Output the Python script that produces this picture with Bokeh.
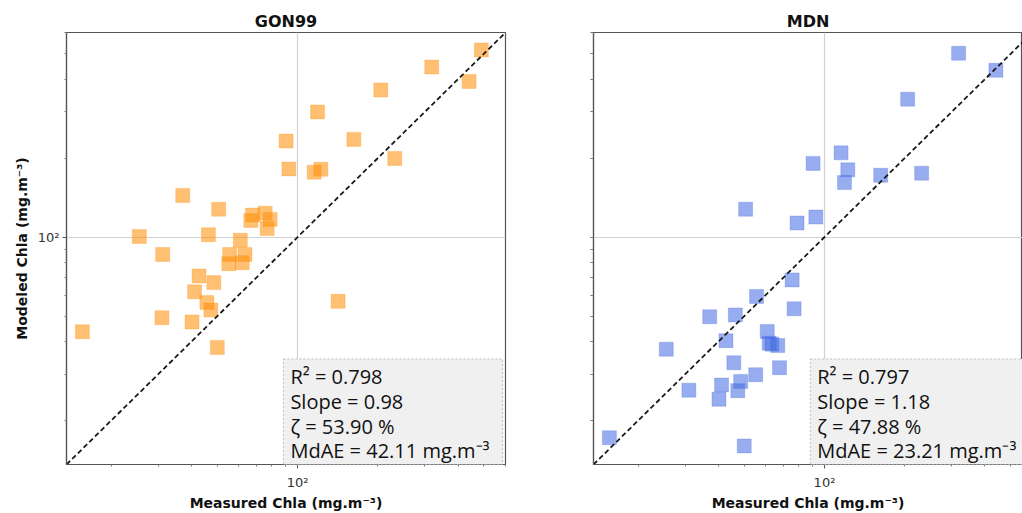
from bokeh.plotting import figure
from bokeh.models import FixedTicker, Label, Range1d
from bokeh.layouts import row
from bokeh.embed import file_html
from bokeh.resources import INLINE

# ---------------- data ----------------
titles = ["GON99", "MDN"]

gon_measured = [488.7, 318.4, 439.5, 205.1, 118.8, 162.5, 90.6, 231.4, 92.8, 115.4,
                122.3, 37.1, 50.6, 67.8, 66.8, 75.6, 78.9, 76.9, 25.5, 46.3,
                61.0, 31.2, 55.6, 63.5, 55.2, 62.0, 42.7, 48.5, 41.1, 45.7,
                47.3, 141.9, 31.0, 40.2, 15.6, 50.0]
gon_modeled = [516.0, 444.6, 391.9, 363.6, 300.0, 235.7, 232.2, 199.4, 181.9, 176.7,
               181.3, 144.2, 127.7, 121.3, 115.8, 123.4, 116.8, 107.8, 100.6, 102.1,
               97.2, 85.9, 85.9, 85.9, 79.2, 79.9, 71.1, 67.1, 61.9, 56.4,
               52.7, 56.9, 49.3, 47.5, 43.6, 38.0]

mdn_measured = [318.4, 439.5, 205.1, 115.4, 90.6, 122.3, 162.5, 231.4, 118.8, 50.6,
                92.8, 78.9, 75.6, 55.6, 76.9, 37.1, 46.3, 61.0, 42.7, 62.0,
                63.5, 66.8, 25.5, 45.7, 67.8, 55.2, 48.5, 41.1, 31.0, 47.3,
                40.2, 15.6, 50.0]
mdn_modeled = [501.6, 432.1, 335.5, 209.4, 190.9, 180.4, 172.1, 175.2, 161.3, 127.7,
               119.2, 113.2, 68.7, 59.4, 53.3, 49.7, 50.5, 43.7, 40.3, 39.4,
               39.1, 38.6, 37.4, 33.2, 31.8, 29.9, 28.2, 27.3, 26.1, 26.0,
               24.1, 17.2, 16.0]

stats_gon = ["R\u00b2 = 0.798", "Slope = 0.98", "\u03b6 = 53.90 %", "MdAE = 42.11 mg.m\u207b\u00b3"]
stats_mdn = ["R\u00b2 = 0.797", "Slope = 1.18", "\u03b6 = 47.88 %", "MdAE = 23.21 mg.m\u207b\u00b3"]

axis_lo, axis_hi = 13.6, 602.0
mdn_x_hi = 553.0          # right panel is cut by the picture edge
major_ticks = [100]
minor_ticks = [20, 30, 40, 50, 60, 70, 80, 90, 200, 300, 400, 500, 600]
tick_label = {100: "10\u00b2"}

x_label = "Measured Chla (mg.m\u207b\u00b3)"
y_label = "Modeled Chla (mg.m\u207b\u00b3)"

ORANGE = "#ff8c00"
BLUE = "#4169e1"


def style_axis(ax):
    ax.major_label_text_font = "DejaVu Sans"
    ax.major_label_text_font_size = "13px"
    ax.major_label_text_color = "#333333"
    ax.major_tick_out = 4
    ax.major_tick_in = 0
    ax.minor_tick_out = 2
    ax.minor_tick_in = 0
    ax.major_tick_line_color = "#555555"
    ax.minor_tick_line_color = "#777777"
    ax.axis_line_color = "#555555"
    ax.axis_line_width = 1.2
    ax.axis_label_text_font = "DejaVu Sans"
    ax.axis_label_text_font_size = "14px"
    ax.axis_label_text_font_style = "bold"
    ax.axis_label_text_color = "#111111"


def panel(title, xs, ys, color, stats, width, x_hi, left, right, show_y, title_offset):
    p = figure(width=width, height=513, x_axis_type="log", y_axis_type="log",
               x_range=Range1d(axis_lo, x_hi), y_range=Range1d(axis_lo, axis_hi),
               output_backend="svg", toolbar_location=None,
               min_border_left=left, min_border_right=right,
               min_border_top=32, min_border_bottom=42, title=title)
    xa, ya = p.xaxis[0], p.yaxis[0]
    style_axis(xa)
    style_axis(ya)
    xa.ticker = FixedTicker(ticks=major_ticks, minor_ticks=minor_ticks)
    xa.major_label_overrides = dict(tick_label)
    xa.major_label_standoff = 6
    xa.axis_label_standoff = 2
    xa.axis_label = x_label
    if show_y:
        ya.ticker = FixedTicker(ticks=major_ticks, minor_ticks=minor_ticks)
        ya.major_label_overrides = dict(tick_label)
        ya.major_label_standoff = 3
        ya.axis_label_standoff = 5
        ya.axis_label = y_label
    else:
        # only tick marks on the y axis of the right panel
        ya.ticker = FixedTicker(ticks=[], minor_ticks=sorted(minor_ticks + major_ticks))
        ya.minor_tick_out = 3
    for g in (p.xgrid[0], p.ygrid[0]):
        g.ticker = FixedTicker(ticks=major_ticks)
        g.grid_line_color = "#d2d2d2"
        g.grid_line_width = 1.2
    p.outline_line_color = "#555555"
    p.outline_line_width = 1.2
    p.title.text_font = "DejaVu Sans"
    p.title.text_font_size = "16px"
    p.title.text_font_style = "bold"
    p.title.align = "center"
    p.title.text_color = "#111111"
    p.title.offset = title_offset
    p.title.standoff = 4
    p.title.text_line_height = 1.3

    p.scatter(xs, ys, marker="square", size=14, fill_color=color, fill_alpha=0.55,
              line_color=color, line_alpha=0.25, line_width=1)
    p.line([axis_lo, axis_hi], [axis_lo, axis_hi], line_color="#1a1a1a",
           line_width=1.8, line_dash="5 3")
    lab = Label(x=axis_hi, y=axis_lo, x_units="data", y_units="data",
                anchor="bottom_right", x_offset=-3, y_offset=0,
                text="\n".join(stats), text_font="Open Sans", text_font_size="20px",
                text_color="#111111", text_line_height=0.92,
                background_fill_color="#f0f0f0", background_fill_alpha=1.0,
                border_line_color="#bdbdbd", border_line_dash="2 2", border_line_width=1,
                padding=dict(left=7, right=13, top=4, bottom=0))
    p.add_layout(lab)
    return p


p1 = panel(titles[0], gon_measured, gon_modeled, ORANGE, stats_gon, 520, axis_hi,
           66, 15, True, 7)
p2 = panel(titles[1], mdn_measured, mdn_modeled, BLUE, stats_mdn, 502, mdn_x_hi,
           73, 0, False, 15)

layout = row(p1, p2)
open("out.html", "w").write(file_html(layout, INLINE))
